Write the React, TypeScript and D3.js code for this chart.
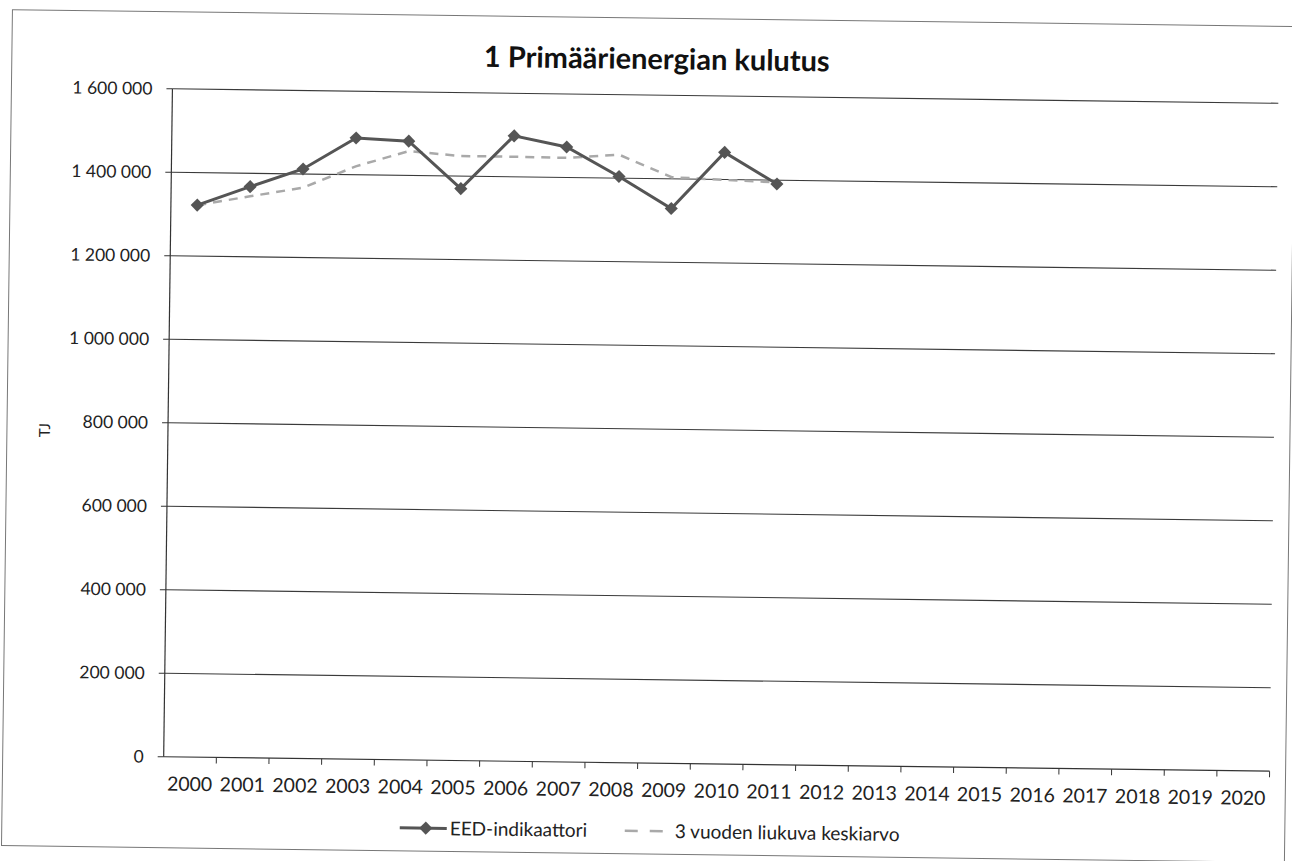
import * as d3 from 'd3';

const years = ['2000', '2001', '2002', '2003', '2004', '2005', '2006', '2007', '2008', '2009', '2010',
  '2011', '2012', '2013', '2014', '2015', '2016', '2017', '2018', '2019', '2020'];
const dataYears = ['2000', '2001', '2002', '2003', '2004', '2005', '2006', '2007', '2008', '2009', '2010', '2011'];
const eedValues = [1322000, 1368000, 1412000, 1488000, 1482000, 1370000, 1498000, 1473000, 1404000, 1329000, 1465000, 1391000];
const avgValues = [1322000, 1345000, 1367000, 1420000, 1458000, 1448000, 1448000, 1447000, 1456000, 1404000, 1399000, 1395000];
const yTicks = [0, 200000, 400000, 600000, 800000, 1000000, 1200000, 1400000, 1600000];

const FONT = 'Lato, "Open Sans", sans-serif';

function App() {
  const width = 1292;
  const height = 861;
  const left = 168;
  const right = 1274;
  const top = 95;
  const bottom = 763;

  const x = d3.scaleBand<string>().domain(years).range([left, right]);
  const y = d3.scaleLinear().domain([0, 1600000]).range([bottom, top]);
  const cx = (yr: string) => (x(yr) ?? 0) + x.bandwidth() / 2;
  const fmt = (v: number) => d3.format(',')(v).replace(/,/g, ' ');

  const line = d3.line<number>().x((_, i) => cx(dataYears[i])).y((d) => y(d));
  const diamond = d3.symbol().type(d3.symbolDiamond2).size(110)();

  return (
    <svg width={width} height={height} style={{ position: 'absolute', left: 0, top: 0, background: '#fff' }}>
      <g transform="rotate(0.75 645 430)" fontFamily={FONT}>
        <rect x={7} y={18} width={1283} height={836} fill="none" stroke="#777" strokeWidth={1} />

        <text x={652} y={69} textAnchor="middle" fontSize={29} fontWeight="bold" fill="#111">
          1 Primäärienergian kulutus
        </text>

        {yTicks.map((t) => (
          <g key={t}>
            {t > 0 && <line x1={left} x2={right} y1={y(t)} y2={y(t)} stroke="#3a3a3a" strokeWidth={1.1} />}
            <line x1={left - 6} x2={left} y1={y(t)} y2={y(t)} stroke="#333" />
            <text x={148} y={y(t)} dy="0.35em" textAnchor="end" fontSize={17.5} fill="#222">
              {fmt(t)}
            </text>
          </g>
        ))}

        <line x1={left} x2={left} y1={top} y2={bottom} stroke="#333" strokeWidth={1.2} />
        <line x1={left} x2={right} y1={bottom} y2={bottom} stroke="#333" strokeWidth={1.2} />
        {years.map((yr) => (
          <line key={`t${yr}`} x1={x(yr)! + x.bandwidth()} x2={x(yr)! + x.bandwidth()} y1={bottom} y2={bottom + 6} stroke="#333" />
        ))}
        {years.map((yr) => (
          <text key={yr} x={cx(yr)} y={790} dy="0.35em" textAnchor="middle" fontSize={19.5} fill="#222">
            {yr}
          </text>
        ))}

        <text transform={`translate(50,438) rotate(-90)`} textAnchor="middle" fontSize={15} fill="#222">
          TJ
        </text>

        <path d={line(avgValues) ?? ''} fill="none" stroke="#a9a9a9" strokeWidth={2.5} strokeDasharray="9 7" />
        <path d={line(eedValues) ?? ''} fill="none" stroke="#555" strokeWidth={3} />
        {eedValues.map((v, i) => (
          <path key={i} d={diamond ?? ''} transform={`translate(${cx(dataYears[i])},${y(v)})`} fill="#555" />
        ))}

        <g transform="translate(0,831)">
          <line x1={405} x2={452} y1={0} y2={0} stroke="#555" strokeWidth={3} />
          <path d={diamond ?? ''} transform="translate(431,0)" fill="#555" />
          <text x={455} y={0} dy="0.35em" fontSize={19} fill="#222">EED-indikaattori</text>
          <line x1={630} x2={672} y1={0} y2={0} stroke="#a9a9a9" strokeWidth={2.5} strokeDasharray="13 12" />
          <text x={680} y={0} dy="0.35em" fontSize={19} fill="#222">3 vuoden liukuva keskiarvo</text>
        </g>
      </g>
    </svg>
  );
}

export default App;
